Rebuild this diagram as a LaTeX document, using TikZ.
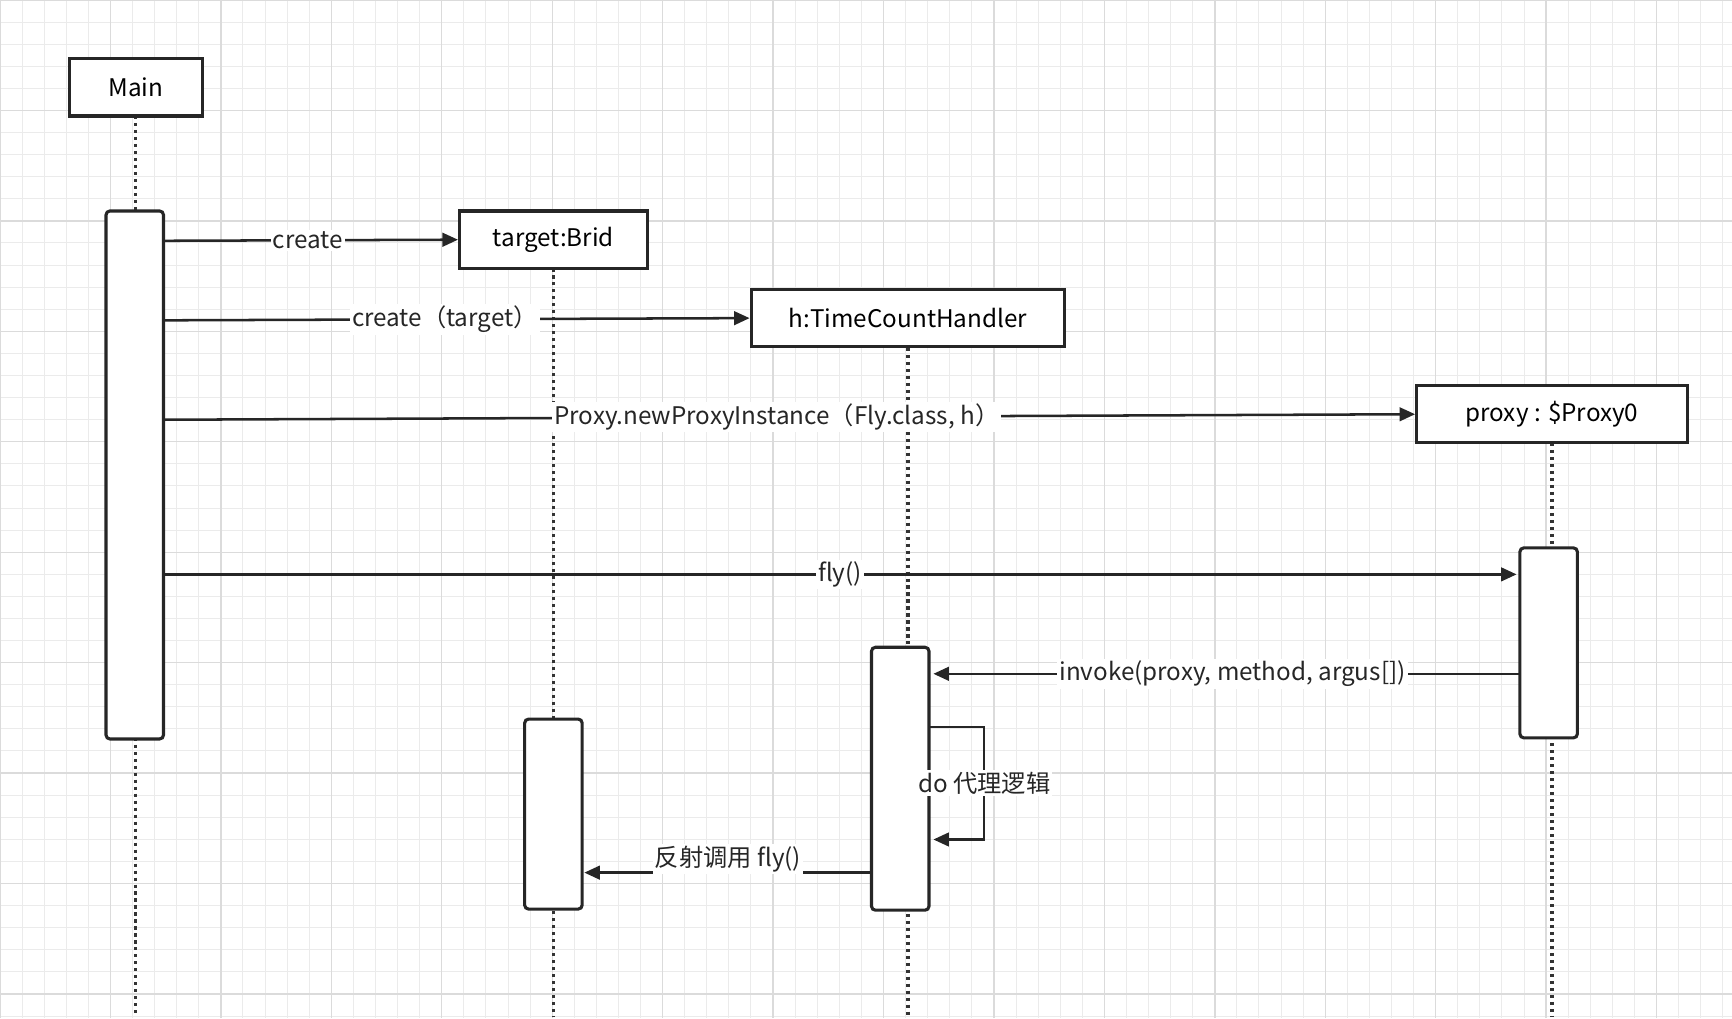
\documentclass[tikz,border=0pt]{standalone}
\usepackage{fontspec}
\setmainfont{Noto Sans CJK SC}
\usetikzlibrary{arrows.meta}
\tikzset{>={Triangle[length=8pt,width=7pt]}, line width=1.0pt}
\tikzset{
  obj/.style={draw=black!85,line width=1.6pt,fill=white,minimum height=1.04cm,inner sep=0pt,font=\fontsize{12.5}{14}\selectfont},
  act/.style={draw=black!85,line width=1.6pt,fill=white,rounded corners=2pt},
  life/.style={dotted,line width=1.6pt,black!80},
  msg/.style={->,black!85,line width=1.3pt},
  lbl/.style={fill=white,inner sep=1pt,font=\fontsize{12.5}{14}\selectfont,text=black!85}
}
\begin{document}
\begin{tikzpicture}[x=0.02cm,y=-0.02cm]
  \useasboundingbox (0,0) rectangle (1568,922);
  % grid
  \draw[black!8,line width=0.5pt,step=0.4cm] (0,0) grid (31.36cm,-18.44cm);
  \draw[black!14,line width=0.7pt,step=2cm] (0,0) grid (31.36cm,-18.44cm);

  % lifelines
  \draw[life] (123,105) -- (123,920);
  \draw[life] (501,243) -- (501,920);
  \draw[life] (822,315) -- (822,920);
  \draw[life] (1405,401) -- (1405,920);

  % objects
  \node[obj,minimum width=2.4cm] (main) at (123,79) {Main};
  \node[obj,minimum width=3.4cm] (brid) at (501,217) {target:Brid};
  \node[obj,minimum width=5.68cm] (handler) at (822,288) {h:TimeCountHandler};
  \node[obj,minimum width=4.9cm] (proxy) at (1405,375) {proxy : \$Proxy0};

  % activations
  \draw[act] (96,191) rectangle (148,669);
  \draw[act] (475,651) rectangle (527,823);
  \draw[act] (789,586) rectangle (841,824);
  \draw[act] (1376,496) rectangle (1428,668);

  % anchors
  \coordinate (m1) at (148,218);
  \coordinate (m2) at (148,290);
  \coordinate (m3) at (148,380);
  \coordinate (m4) at (148,520);
  \coordinate (p4) at (1373,520);
  \coordinate (p5) at (1376,610);
  \coordinate (h5) at (845,610);
  \coordinate (h6a) at (841,658);
  \coordinate (h6b) at (845,760);
  \coordinate (h7) at (789,790);
  \coordinate (b7) at (529,790);

  % messages
  \draw[msg] (m1) -- node[lbl,pos=0.49] {create} (brid.west);
  \draw[msg] (m2) -- node[lbl,pos=0.48] {create（target）} (handler.west);
  \draw[msg] (m3) -- node[lbl,pos=0.49] {Proxy.newProxyInstance（Fly.class, h）} (proxy.west);
  \draw[msg] (m4) -- node[lbl,pos=0.5] {fly()} (p4);
  \draw[msg] (p5) -- node[lbl,pos=0.49] {invoke(proxy, method, argus[])} (h5);
  \draw[msg] (h6a) -- (891,658) -- node[lbl,pos=0.5] {do 代理逻辑} (891,760) -- (h6b);
  \draw[msg] (h7) -- node[lbl,pos=0.5,yshift=0.24cm] {反射调用 fly()} (b7);
\end{tikzpicture}
\end{document}
